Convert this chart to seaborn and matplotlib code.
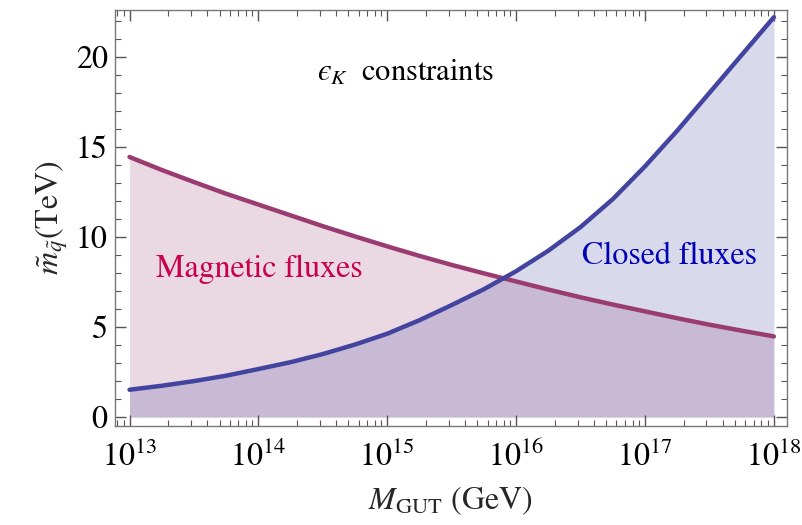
import matplotlib
matplotlib.use("Agg")
import matplotlib.pyplot as plt
import matplotlib.ticker as mticker
import numpy as np
import pandas as pd
import seaborn as sns

# values (quarter-decade steps)
log_mgut = [13.0, 13.25, 13.5, 13.75, 14.0, 14.25, 14.5, 14.75, 15.0, 15.25, 15.5,
            15.75, 16.0, 16.25, 16.5, 16.75, 17.0, 17.25, 17.5, 17.75, 18.0]
magnetic = [14.44, 13.72, 13.05, 12.4, 11.8, 11.2, 10.6, 10.03, 9.48, 8.95, 8.45,
            7.98, 7.53, 7.08, 6.65, 6.25, 5.87, 5.49, 5.13, 4.8, 4.48]
closed = [1.52, 1.74, 2.0, 2.3, 2.67, 3.05, 3.5, 4.03, 4.63, 5.38, 6.22,
          7.1, 8.1, 9.24, 10.55, 12.1, 13.92, 15.9, 18.0, 20.1, 22.2]

mag_col = "#9a3c72"
clo_col = "#4343a0"

df = pd.DataFrame({
    "M": 10.0 ** np.array(log_mgut),
    "Magnetic": magnetic,
    "Closed": closed,
})

sns.set_style("ticks")
plt.rcParams["font.family"] = ["STIXGeneral", "DejaVu Serif"]
plt.rcParams["mathtext.fontset"] = "stix"

fig, ax = plt.subplots(figsize=(8.02, 5.25), dpi=100)
fig.subplots_adjust(left=0.143, right=0.981, top=0.981, bottom=0.189)

ax.fill_between(df["M"], 0, df["Magnetic"], color=mag_col, alpha=0.2, lw=0)
ax.fill_between(df["M"], 0, df["Closed"], color=clo_col, alpha=0.2, lw=0)
sns.lineplot(data=df, x="M", y="Magnetic", color=mag_col, lw=3.2, ax=ax)
sns.lineplot(data=df, x="M", y="Closed", color=clo_col, lw=3.2, ax=ax)

ax.set_xscale("log")
ax.set_xlim(10 ** 12.885, 10 ** 18.1)
ax.set_ylim(-0.48, 22.6)

ax.xaxis.set_major_locator(mticker.LogLocator(base=10, numticks=10))
ax.xaxis.set_minor_locator(mticker.LogLocator(base=10, subs=np.arange(2, 10), numticks=10))
ax.xaxis.set_minor_formatter(mticker.NullFormatter())
ax.yaxis.set_major_locator(mticker.MultipleLocator(5))
ax.yaxis.set_minor_locator(mticker.MultipleLocator(1))

ax.tick_params(which="both", direction="in", top=True, right=True,
               colors="#555555", labelcolor="black", labelsize=23)
ax.tick_params(which="major", length=8, width=1)
ax.tick_params(which="minor", length=4, width=0.8)
ax.tick_params(axis="x", pad=11)
ax.tick_params(axis="y", pad=5)
for sp in ax.spines.values():
    sp.set_color("#777777")
    sp.set_linewidth(1)

ax.set_xlabel(r"$M_{\mathrm{GUT}}$ (GeV)", fontsize=23, labelpad=8)
ax.set_ylabel(r"$\tilde{m}_{\tilde{q}}$(TeV)", fontsize=23, labelpad=4)

ax.text(10 ** 14.01, 8.2, "Magnetic fluxes", color="#c8004e", fontsize=23,
        ha="center", va="center")
ax.text(10 ** 17.19, 8.92, "Closed fluxes", color="#0000b4", fontsize=23,
        ha="center", va="center")
ax.text(10 ** 15.14, 19.1, "$\u03f5_K$  constraints", color="black", fontsize=22,
        ha="center", va="center")

fig.savefig("out.png", dpi=100)
